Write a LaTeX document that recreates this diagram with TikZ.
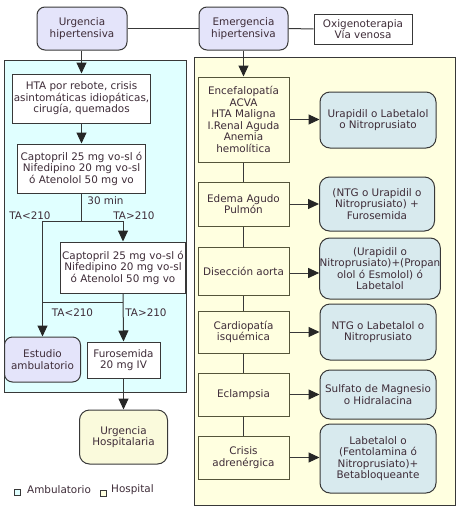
\documentclass[tikz,border=0pt]{standalone}
\usepackage{fontspec}
\setmainfont{DejaVu Sans}
\usetikzlibrary{arrows.meta}
\definecolor{txt}{HTML}{3E2C38}
\definecolor{ln}{HTML}{383838}
\definecolor{lav}{HTML}{E4E4FA}
\definecolor{cyanp}{HTML}{E0FFFF}
\definecolor{yelp}{HTML}{FFFFE0}
\definecolor{olive}{HTML}{55553A}
\definecolor{treat}{HTML}{D8EAEE}
\definecolor{hosp}{HTML}{FAFADC}
\begin{document}
\begin{tikzpicture}[x=1pt,y=-1pt,
  every node/.style={font=\fontsize{10.4}{11.5}\selectfont,text=txt,align=center,inner sep=0pt},
  base/.style={draw=ln,line width=1pt},
  lavbox/.style={base,fill=lav,rounded corners=8pt},
  whitebox/.style={base,fill=white},
  condbox/.style={draw=olive,line width=1pt,fill=yelp},
  treatbox/.style={base,fill=treat,rounded corners=10pt},
  hospbox/.style={base,fill=hosp,rounded corners=10pt},
  conn/.style={draw=ln,line width=1pt},
  arr/.style={conn,-{Triangle[length=11pt,width=10pt,color=black!85]}},
  lbl/.style={font=\fontsize{10.4}{11.5}\selectfont}
]
\useasboundingbox (0,0) rectangle (461,507);
% panels
\path[draw=ln,line width=1pt,fill=cyanp] (4,60) rectangle (186,392);
\path[draw=ln,line width=1pt,fill=yelp] (194,57) rectangle (455,505);
% top row
\node[lavbox,minimum width=90pt,minimum height=43pt] (urg) at (82,28.5) {Urgencia\\hipertensiva};
\node[lavbox,minimum width=89pt,minimum height=43pt] (emer) at (243.5,28.5) {Emergencia\\hipertensiva};
\node[whitebox,minimum width=98pt,minimum height=30pt] (oxi) at (363,29) {Oxigenoterapia\\Vía venosa};
\draw[conn] (urg.east) -- (emer.west);
\draw[conn] (emer.east) -- (oxi.west);
% left flow
\node[whitebox,minimum width=138pt,minimum height=49pt] (hta) at (81.5,98.5) {HTA por rebote, crisis\\asintomáticas idiopáticas,\\cirugía, quemados};
\node[whitebox,minimum width=128pt,minimum height=49pt] (cap1) at (81.5,168.5) {Captopril 25 mg vo-sl ó\\Nifedipino 20 mg vo-sl\\ó Atenolol 50 mg vo};
\node[whitebox,minimum width=125pt,minimum height=51pt] (cap2) at (123,267.5) {Captopril 25 mg vo-sl ó\\Nifedipino 20 mg vo-sl\\ó Atenolol 50 mg vo};
\node[lavbox,minimum width=76pt,minimum height=45pt] (est) at (42.5,359.5) {Estudio\\ambulatorio};
\node[whitebox,minimum width=73pt,minimum height=36pt] (furo) at (123.5,360) {Furosemida\\20 mg IV};
\node[hospbox,minimum width=88pt,minimum height=54pt] (uh) at (123.5,437) {Urgencia\\Hospitalaria};
\coordinate (s1) at (81.5,221);
\coordinate (s1l) at (42.5,221);
\coordinate (s1r) at (123,221);
\coordinate (s2l) at (42.5,302);
\coordinate (s2r) at (123,302);
\draw[arr] (urg.south -| hta.north) -- (hta.north);
\draw[arr] (hta.south) -- (cap1.north);
\draw[conn] (cap1.south) -- (s1);
\draw[conn] (s1l) -- (s1r);
\draw[arr] (s1r) -- (cap2.north);
\draw[arr] (s1l) -- (est.north);
\draw[arr] (cap2.south) -- (furo.north);
\draw[conn] (s2l) -- (s2r);
\draw[arr] (furo.south) -- (uh.north);
\node[lbl] (l30) at (105.5,201) {30 min};
\node[lbl] (la1) at (30,216) {TA<210};
\node[lbl] (lb1) at (134,216) {TA>210};
\node[lbl] (la2) at (72.5,313) {TA<210};
\node[lbl] (lb2) at (146,313) {TA>210};
% right flow
\node[condbox,minimum width=91pt,minimum height=85pt] (enc) at (243.5,119.5) {Encefalopatía\\ACVA\\HTA Maligna\\I.Renal Aguda\\Anemia\\hemolítica};
\node[condbox,minimum width=91pt,minimum height=44pt] (ede) at (243.5,204) {Edema Agudo\\Pulmón};
\node[condbox,minimum width=91pt,minimum height=48pt] (dis) at (243.5,271) {Disección aorta};
\node[condbox,minimum width=91pt,minimum height=42pt] (car) at (243.5,332) {Cardiopatía\\isquémica};
\node[condbox,minimum width=91pt,minimum height=43pt] (ecl) at (243.5,394.5) {Eclampsia};
\node[condbox,minimum width=91pt,minimum height=43pt] (cri) at (243.5,457.5) {Crisis\\adrenérgica};
\node[treatbox,minimum width=116pt,minimum height=56pt] (t1) at (378,120) {Urapidil o Labetalol\\o Nitroprusiato};
\node[treatbox,minimum width=115pt,minimum height=54pt] (t2) at (377,204) {(NTG o Urapidil o\\Nitroprusiato) +\\Furosemida};
\node[treatbox,minimum width=120pt,minimum height=61pt] (t3) at (380,268.5) {(Urapidil o\\Nitroprusiato)+(Propan\\olol ó Esmolol) ó\\Labetalol};
\node[treatbox,minimum width=116pt,minimum height=56pt] (t4) at (378,332) {NTG o Labetalol o\\Nitroprusiato};
\node[treatbox,minimum width=116pt,minimum height=49pt] (t5) at (378,394.5) {Sulfato de Magnesio\\o Hidralacina};
\node[treatbox,minimum width=116pt,minimum height=69pt] (t6) at (378,458.5) {Labetalol o\\(Fentolamina ó\\Nitroprusiato)+\\Betabloqueante};
\draw[arr] (emer.south) -- (enc.north);
\draw[conn] (enc.south) -- (ede.north);
\draw[conn] (ede.south) -- (dis.north);
\draw[conn] (dis.south) -- (car.north);
\draw[conn] (car.south) -- (ecl.north);
\draw[conn] (ecl.south) -- (cri.north);
\draw[arr] (enc.east) -- (enc.east -| t1.west);
\draw[arr] (ede.east) -- (ede.east -| t2.west);
\draw[arr] ([yshift=-2pt]dis.east) -- ([yshift=-2pt]dis.east -| t3.west);
\draw[arr] (car.east) -- (car.east -| t4.west);
\draw[arr] (ecl.east) -- (ecl.east -| t5.west);
\draw[arr] (cri.east) -- (cri.east -| t6.west);
% legend
\node[draw=ln,line width=0.8pt,fill=cyanp,minimum width=6pt,minimum height=6pt] (sq1) at (17,492) {};
\node[anchor=west] (lg1) at (27,490) {Ambulatorio};
\node[draw=ln,line width=0.8pt,fill=yelp,minimum width=6pt,minimum height=6pt] (sq2) at (103.5,493) {};
\node[anchor=west] (lg2) at (111,490) {Hospital};
\end{tikzpicture}
\end{document}
